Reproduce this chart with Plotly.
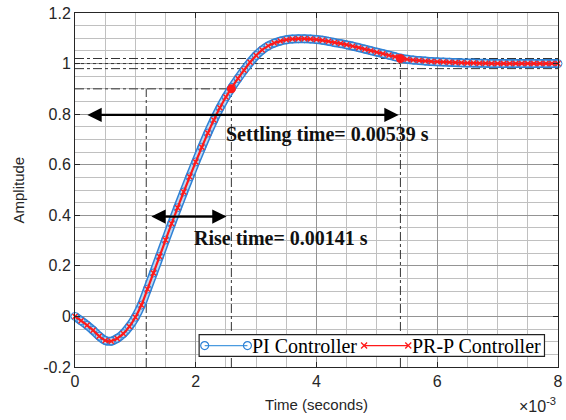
import numpy as np
import plotly.graph_objects as go

# ---------------- data ----------------
time_ms = [0.0, 0.1, 0.2, 0.3, 0.4, 0.5, 0.6, 0.7, 0.8, 0.9,
           1.0, 1.1, 1.2, 1.3, 1.4, 1.5, 1.6, 1.7, 1.8, 1.9,
           2.0, 2.1, 2.2, 2.3, 2.4, 2.5, 2.6, 2.7, 2.8, 2.9,
           3.0, 3.1, 3.2, 3.3, 3.4, 3.5, 3.6, 3.7, 3.8, 3.9,
           4.0, 4.1, 4.2, 4.3, 4.4, 4.5, 4.6, 4.7, 4.8, 4.9,
           5.0, 5.1, 5.2, 5.3, 5.4, 5.5, 5.6, 5.7, 5.8, 5.9,
           6.0, 6.1, 6.2, 6.3, 6.4, 6.5, 6.6, 6.7, 6.8, 6.9,
           7.0, 7.1, 7.2, 7.3, 7.4, 7.5, 7.6, 7.7, 7.8, 7.9, 8.0]

pi_amp = [0.000, -0.017, -0.035, -0.055, -0.078, -0.095, -0.098, -0.087, -0.068, -0.040,
          -0.003, 0.045, 0.108, 0.172, 0.237, 0.302, 0.367, 0.430, 0.492, 0.552,
          0.611, 0.669, 0.725, 0.777, 0.825, 0.868, 0.906, 0.941, 0.974, 1.005,
          1.032, 1.054, 1.070, 1.081, 1.089, 1.094, 1.097, 1.098, 1.098, 1.097,
          1.095, 1.092, 1.088, 1.083, 1.079, 1.074, 1.069, 1.063, 1.057, 1.051,
          1.045, 1.039, 1.033, 1.027, 1.021, 1.017, 1.014, 1.012, 1.010, 1.008,
          1.007, 1.006, 1.005, 1.004, 1.003, 1.002, 1.002, 1.001, 1.001, 1.000,
          1.000, 1.000, 1.000, 1.000, 1.000, 1.000, 1.000, 1.000, 1.000, 1.000, 1.000]

# PR-P response overlaps the PI response everywhere in the picture
prp_amp = list(pi_amp)

series_names = ["PI Controller", "PR-P Controller"]

# step characteristics
rise_start_s = 0.00118
rise_end_s = 0.00259
rise_level = 0.9
settle_s = 0.00539
settle_level = 1.02
final_value = 1.0
band_hi, band_lo = 1.02, 0.98
settling_label = "Settling time= 0.00539 s"
rise_label = "Rise time= 0.00141 s"

x_tickvals = [0, 0.002, 0.004, 0.006, 0.008]
x_ticktext = ["0", "2", "4", "6", "8"]
y_tickvals = [-0.2, 0, 0.2, 0.4, 0.6, 0.8, 1.0, 1.2]
y_ticktext = ["-0.2", "0", "0.2", "0.4", "0.6", "0.8", "1", "1.2"]

t_s = np.array(time_ms) * 1e-3

BLUE = "#2f82d6"
RED = "#ff1a1a"
SERIF = "Liberation Serif"
SANS = "Liberation Sans"
X_RANGE = [0, 0.008]
Y_RANGE = [-0.2, 1.2]

fig = go.Figure()

# band that imitates the densely packed open-circle markers
fig.add_trace(go.Scatter(x=t_s, y=pi_amp, mode="lines", line=dict(color=BLUE, width=9, shape="spline"),
                         hoverinfo="skip", showlegend=False, cliponaxis=False))
fig.add_trace(go.Scatter(x=t_s, y=pi_amp, mode="lines", line=dict(color="#bcd8f2", width=6, shape="spline"),
                         hoverinfo="skip", showlegend=False, cliponaxis=False))
fig.add_trace(go.Scatter(x=t_s, y=pi_amp, mode="markers", name=series_names[0],
                         marker=dict(symbol="circle-open", size=8, color=BLUE, line=dict(width=1)),
                         showlegend=False, cliponaxis=False))
fig.add_trace(go.Scatter(x=t_s, y=prp_amp, mode="lines+markers", name=series_names[1],
                         line=dict(color=RED, width=2.2, shape="spline"),
                         marker=dict(symbol="x-thin", size=5, color=RED, line=dict(width=1.4, color=RED)),
                         showlegend=False, cliponaxis=False))
# characteristic points
fig.add_trace(go.Scatter(x=[rise_end_s, settle_s], y=[rise_level, settle_level], mode="markers",
                         marker=dict(size=9, color=RED), showlegend=False))

# ---- custom legend on an overlay axis (0..1 = plot area) ----
leg_y = 0.0606
leg_box = dict(x0=0.257, x1=0.972, y0=0.0299, y1=0.0912)
fig.add_trace(go.Scatter(x=[0.2685, 0.3570], y=[leg_y, leg_y], xaxis="x2", yaxis="y2", mode="lines+markers",
                         line=dict(color="#4a9be0", width=1.2),
                         marker=dict(symbol="circle-open", size=8, color=BLUE, line=dict(width=1.2)),
                         showlegend=False, hoverinfo="skip"))
fig.add_trace(go.Scatter(x=[0.5985, 0.6900], y=[leg_y, leg_y], xaxis="x2", yaxis="y2", mode="lines+markers",
                         line=dict(color=RED, width=1.2),
                         marker=dict(symbol="x-thin", size=6, color=RED, line=dict(width=1.3, color=RED)),
                         showlegend=False, hoverinfo="skip"))


def fx(p):
    return X_RANGE[0] + p * (X_RANGE[1] - X_RANGE[0])


def fy(p):
    return Y_RANGE[0] + p * (Y_RANGE[1] - Y_RANGE[0])


shapes = []
dd = dict(color="#333333", width=1, dash="dashdot")
# settling band
shapes.append(dict(type="line", xref="x", yref="y", x0=0, x1=0.008, y0=band_hi, y1=band_hi, line=dd, layer="between"))
shapes.append(dict(type="line", xref="x", yref="y", x0=0, x1=0.008, y0=band_lo, y1=band_lo, line=dd, layer="between"))
shapes.append(dict(type="line", xref="x", yref="y", x0=0, x1=settle_s, y0=final_value, y1=final_value,
                   line=dict(color="#333333", width=1, dash="dot"), layer="between"))
shapes.append(dict(type="line", xref="x", yref="y", x0=settle_s, x1=settle_s, y0=-0.2, y1=settle_level, line=dd, layer="between"))
# rise time lines
shapes.append(dict(type="line", xref="x", yref="y", x0=0, x1=rise_end_s, y0=rise_level, y1=rise_level, line=dd, layer="between"))
shapes.append(dict(type="line", xref="x", yref="y", x0=rise_end_s, x1=rise_end_s, y0=-0.2, y1=rise_level, line=dd, layer="between"))
shapes.append(dict(type="line", xref="x", yref="y", x0=rise_start_s, x1=rise_start_s, y0=-0.2, y1=rise_level, line=dd, layer="between"))
# legend box (white, hides the grid)
shapes.append(dict(type="rect", xref="x", yref="y", x0=fx(leg_box["x0"]), x1=fx(leg_box["x1"]),
                   y0=fy(leg_box["y0"]), y1=fy(leg_box["y1"]),
                   line=dict(color="#222222", width=1.2), fillcolor="white", layer="between"))

annotations = []
arrow = dict(showarrow=True, text="", arrowcolor="black", arrowwidth=2.2, arrowhead=2, arrowsize=1.3,
             arrowside="end+start", xref="x", yref="y", axref="x", ayref="y", standoff=0, startstandoff=0)
annotations.append(dict(arrow, x=0.00536, y=0.797, ax=0.00018, ay=0.797))
annotations.append(dict(arrow, x=0.00251, y=0.395, ax=0.00124, ay=0.395))
annotations.append(dict(text="<b>" + settling_label + "</b>", x=0.00246, y=0.718, xref="x", yref="y",
                        xanchor="left", yanchor="middle", showarrow=False,
                        font=dict(family=SERIF, size=20, color="#111111")))
annotations.append(dict(text="<b>" + rise_label + "</b>", x=0.00193, y=0.31, xref="x", yref="y",
                        xanchor="left", yanchor="middle", showarrow=False,
                        font=dict(family=SERIF, size=20, color="#111111")))
annotations.append(dict(text=series_names[0], x=0.3630, y=leg_y, xref="x2", yref="y2", xanchor="left",
                        yanchor="middle", showarrow=False, font=dict(family=SERIF, size=20, color="black")))
annotations.append(dict(text=series_names[1], x=0.6935, y=leg_y, xref="x2", yref="y2", xanchor="left",
                        yanchor="middle", showarrow=False, font=dict(family=SERIF, size=20, color="black")))
annotations.append(dict(text="\u00d710<sup>-3</sup>", x=1.0, y=-0.142, xref="paper", yref="paper",
                        xanchor="right", yanchor="bottom", showarrow=False,
                        font=dict(family=SANS, size=16, color="#262626")))
annotations.append(dict(text="Amplitude", x=-0.117, y=0.5, xref="paper", yref="paper", textangle=-90,
                        xanchor="center", yanchor="middle", showarrow=False,
                        font=dict(family=SANS, size=15, color="#262626")))

axis_common = dict(showline=True, linecolor="#262626", linewidth=1, mirror="ticks", ticks="inside",
                   ticklen=5, tickcolor="#262626", zeroline=False, showgrid=True,
                   gridcolor="#949494", gridwidth=1, ticklabeloverflow="allow",
                   tickfont=dict(family=SANS, size=16, color="#262626"))

fig.update_layout(
    width=566, height=420,
    margin=dict(l=75, r=3, t=13, b=53),
    paper_bgcolor="white", plot_bgcolor="white",
    showlegend=False,
    xaxis=dict(axis_common, range=X_RANGE, tickvals=x_tickvals, ticktext=x_ticktext,
               minor=dict(dtick=0.0005, tick0=0, showgrid=True, gridcolor="#c0c0c0", ticks=""),
               title=dict(text="Time (seconds)", font=dict(family=SANS, size=15, color="#262626"), standoff=10)),
    yaxis=dict(axis_common, range=Y_RANGE, tickvals=y_tickvals, ticktext=y_ticktext,
               minor=dict(dtick=0.05, tick0=0, showgrid=True, gridcolor="#c0c0c0", ticks="")),
    xaxis2=dict(overlaying="x", range=[0, 1], visible=False, fixedrange=True),
    yaxis2=dict(overlaying="y", range=[0, 1], visible=False, fixedrange=True),
    shapes=shapes,
    annotations=annotations,
)

fig.write_html("out.html")
